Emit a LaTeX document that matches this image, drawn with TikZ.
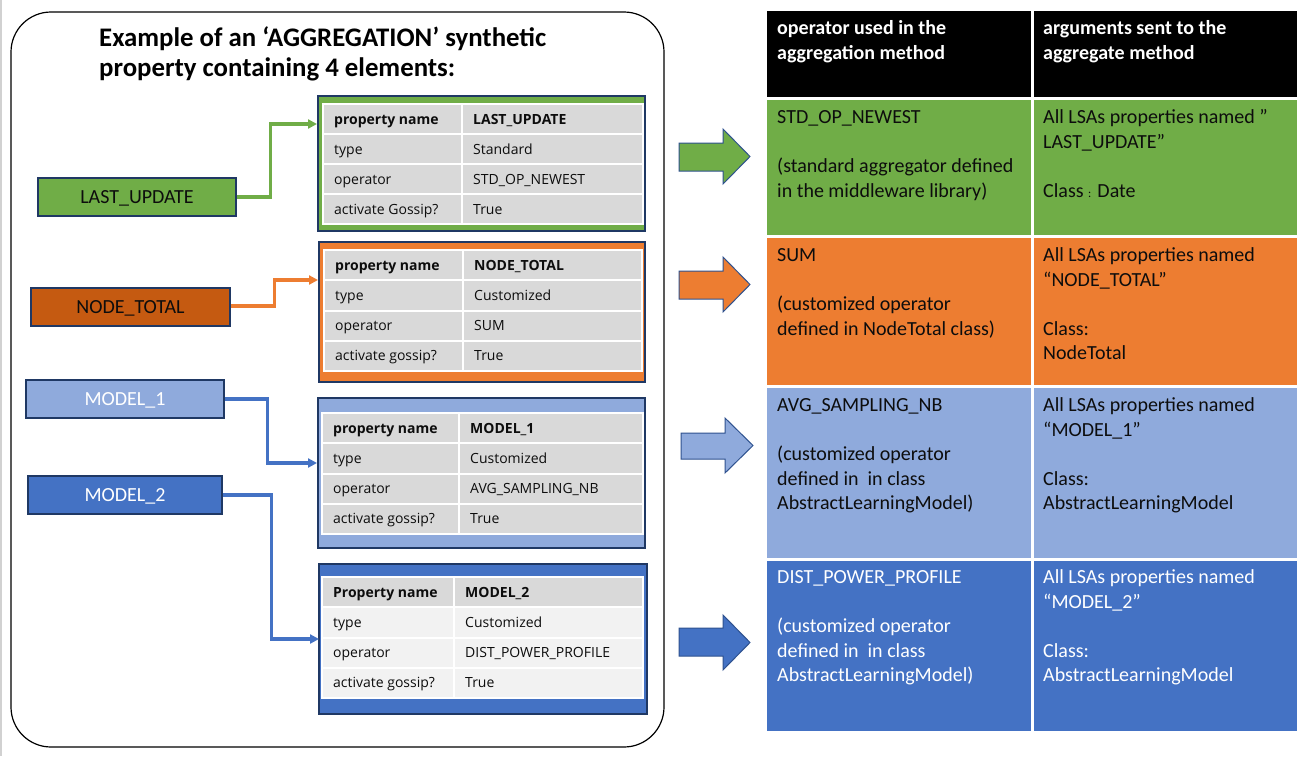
\documentclass[tikz,border=0pt]{standalone}
\usepackage{fontspec}
\setmainfont{Carlito}
\newfontfamily\ptfont{Open Sans}
\usetikzlibrary{arrows.meta}
\definecolor{ogreen}{HTML}{70AD47}
\definecolor{oorange}{HTML}{ED7D31}
\definecolor{dorange}{HTML}{C55A11}
\definecolor{lblue}{HTML}{8FAADC}
\definecolor{oblue}{HTML}{4472C4}
\definecolor{navy}{HTML}{1F3864}
\definecolor{cellg}{HTML}{D9D9D9}
\definecolor{celll}{HTML}{F2F2F2}
\definecolor{arrline}{HTML}{2F528F}
\definecolor{txtdark}{HTML}{0D0D0D}
\tikzset{
  lbox/.style={draw=navy, line width=1.2pt, minimum width=#1, minimum height=38pt,
    inner sep=0pt, font=\fontsize{20}{24}\selectfont, text height=12.9pt, text depth=0pt},
  tbox/.style={draw=navy, line width=1.2pt, inner sep=0pt},
  ptxt/.style={font=\ptfont\fontsize{14}{17}\selectfont, anchor=west, inner sep=0pt,
    text height=10pt, text depth=0pt, text=txtdark},
  ctxt/.style={anchor=north west, inner sep=0pt, align=left, font=\fontsize{20}{24.5}\selectfont},
  conn/.style={line width=3.2pt, -{Triangle[length=9pt,width=9pt]}},
  barrow/.style={draw=arrline, line width=1pt},
}
\newcommand\myprow[9]{%
  \fill[#7] ({#2},{#5}) rectangle ({#4},{#5+#6});
  \draw[white, line width=2pt] ({#2},{#5}) rectangle ({#4},{#5+#6}) ({#3},{#5}) -- ({#3},{#5+#6});
  \node[ptxt] (#1a) at ({#2+11},{#5+#6/2}) {#8};
  \node[ptxt] (#1b) at ({#3+11},{#5+#6/2}) {#9};}
\begin{document}
\begin{tikzpicture}[x=1pt,y=-1pt]
\useasboundingbox[fill=white] (0,0) rectangle (1307,756);
\draw[line width=2pt, color=black!18] (1,0) -- (1,756);
% outer frame
\draw[line width=1.2pt, rounded corners=40pt] (11,12) rectangle (664,747);
% title
\node[anchor=north west, inner sep=0pt, align=left, font=\bfseries\fontsize{26.8}{30}\selectfont] (title) at (99,25)
  {\strut Example of an ‘AGGREGATION’ synthetic\\ property containing 4 elements:};
% left boxes
\node[lbox=198pt, fill=ogreen, text=txtdark] (lu) at (137,197) {LAST\_UPDATE};
\node[lbox=199pt, fill=dorange, text=txtdark] (nt) at (130.5,307) {NODE\_TOTAL};
\node[lbox=198pt, fill=lblue, text=white] (m1) at (125,399) {MODEL\_1};
\node[lbox=194pt, fill=oblue, text=white] (m2) at (125,495) {MODEL\_2};
% property table boxes
\node[tbox, fill=ogreen, minimum width=327pt, minimum height=135pt] (gbox) at (481.5,163.5) {};
\node[tbox, fill=oorange, minimum width=326pt, minimum height=140pt] (obox) at (482,312) {};
\node[tbox, fill=lblue, minimum width=327pt, minimum height=150pt] (lbbox) at (481.5,473) {};
\node[tbox, fill=oblue, minimum width=328pt, minimum height=150pt] (bbox) at (483,639) {};
% green table
\myprow{ga}{323}{462}{643}{104}{30}{cellg}{\bfseries property name}{\bfseries LAST\_UPDATE}
\myprow{gb}{323}{462}{643}{134}{30}{cellg}{type}{Standard}
\myprow{gc}{323}{462}{643}{164}{30}{cellg}{operator}{STD\_OP\_NEWEST}
\myprow{gd}{323}{462}{643}{194}{30}{cellg}{activate Gossip?}{True}
% orange table
\myprow{oa}{324}{463}{642}{250}{30.25}{cellg}{\bfseries property name}{\bfseries NODE\_TOTAL}
\myprow{ob}{324}{463}{642}{280.25}{30.25}{cellg}{type}{Customized}
\myprow{oc}{324}{463}{642}{310.5}{30.25}{cellg}{operator}{SUM}
\myprow{od}{324}{463}{642}{340.75}{30.25}{cellg}{activate gossip?}{True}
% model1 table
\myprow{la}{322}{459}{643}{413}{30.25}{cellg}{\bfseries property name}{\bfseries MODEL\_1}
\myprow{lb}{322}{459}{643}{443.25}{30.25}{cellg}{type}{Customized}
\myprow{lc}{322}{459}{643}{473.5}{30.25}{cellg}{operator}{AVG\_SAMPLING\_NB}
\myprow{ld}{322}{459}{643}{503.75}{30.25}{cellg}{activate gossip?}{True}
% model2 table
\myprow{ba}{322}{454}{643}{577}{30.25}{cellg}{\bfseries Property name}{\bfseries MODEL\_2}
\myprow{bb}{322}{454}{643}{607.25}{30.25}{celll}{type}{Customized}
\myprow{bc}{322}{454}{643}{637.5}{30.25}{celll}{operator}{DIST\_POWER\_PROFILE}
\myprow{bd}{322}{454}{643}{667.75}{30.25}{celll}{activate gossip?}{True}
% connectors
\coordinate (gin) at (317,124);
\coordinate (oin) at (318,280);
\coordinate (lin) at (317,463);
\coordinate (bin) at (319,639);
\draw[conn, ogreen] (lu.east) -- ++(34,0) |- (gin);
\draw[conn, oorange] ([yshift=1pt]nt.east) -- ++(44,0) |- (oin);
\draw[conn, oblue] (m1.east) -- ++(43,0) |- (lin);
\draw[conn, oblue] (m2.east) -- ++(49,0) |- (bin);
% block arrows
\draw[barrow, fill=ogreen] (679,143) -- (723,143) -- (723,129) -- (750,156.5) -- (723,184) -- (723,171) -- (679,171) -- cycle;
\draw[barrow, fill=oorange] (679,271) -- (723,271) -- (723,257) -- (750,284.5) -- (723,312) -- (723,299) -- (679,299) -- cycle;
\draw[barrow, fill=lblue] (681,433) -- (725,433) -- (725,418) -- (753,445.5) -- (725,473) -- (725,459) -- (681,459) -- cycle;
\draw[barrow, fill=oblue] (679,628) -- (723,628) -- (723,615) -- (750,642.5) -- (723,670) -- (723,656) -- (679,656) -- cycle;
% right table
\fill[black] (767,11) rectangle (1031,97);
\fill[black] (1034,11) rectangle (1297,97);
\fill[ogreen] (767,100) rectangle (1031,235);
\fill[ogreen] (1034,100) rectangle (1297,235);
\fill[oorange] (767,238) rectangle (1031,385);
\fill[oorange] (1034,238) rectangle (1297,385);
\fill[lblue] (767,388) rectangle (1031,558);
\fill[lblue] (1034,388) rectangle (1297,558);
\fill[oblue] (767,561) rectangle (1031,731);
\fill[oblue] (1034,561) rectangle (1297,731);
\node[ctxt, text=white, font=\bfseries\fontsize{20}{24.5}\selectfont] (h1) at (777,17.35)
  {\strut operator used in the\\ aggregation method};
\node[ctxt, text=white, font=\bfseries\fontsize{20}{24.5}\selectfont] (h2) at (1043,17.35)
  {\strut arguments sent to the\\ aggregate method};
\node[ctxt, text=txtdark] (c1a) at (777,106.35)
  {\strut STD\_OP\_NEWEST\\[24.5pt] (standard aggregator defined\\ in the middleware library)};
\node[ctxt, text=txtdark] (c1b) at (1043,106.35)
  {\strut All LSAs properties named ”\\ LAST\_UPDATE”\\[24.5pt] Class {\fontsize{12}{12}\selectfont:} Date};
\node[ctxt, text=txtdark] (c2a) at (777,244.35)
  {\strut SUM\\[24.5pt] (customized operator\\ defined in NodeTotal class)};
\node[ctxt, text=txtdark] (c2b) at (1043,244.35)
  {\strut All LSAs properties named\\ “NODE\_TOTAL”\\[24.5pt] Class:\\ NodeTotal};
\node[ctxt, text=txtdark] (c3a) at (777,394.35)
  {\strut AVG\_SAMPLING\_NB\\[24.5pt] (customized operator\\ defined in~ in class\\ AbstractLearningModel)};
\node[ctxt, text=txtdark] (c3b) at (1043,394.35)
  {\strut All LSAs properties named\\ “MODEL\_1”\\[24.5pt] Class:\\ AbstractLearningModel};
\node[ctxt, text=white] (c4a) at (777,566.35)
  {\strut DIST\_POWER\_PROFILE\\[24.5pt] (customized operator\\ defined in~ in class\\ AbstractLearningModel)};
\node[ctxt, text=white] (c4b) at (1043,566.35)
  {\strut All LSAs properties named\\ “MODEL\_2”\\[24.5pt] Class:\\ AbstractLearningModel};
\end{tikzpicture}
\end{document}
